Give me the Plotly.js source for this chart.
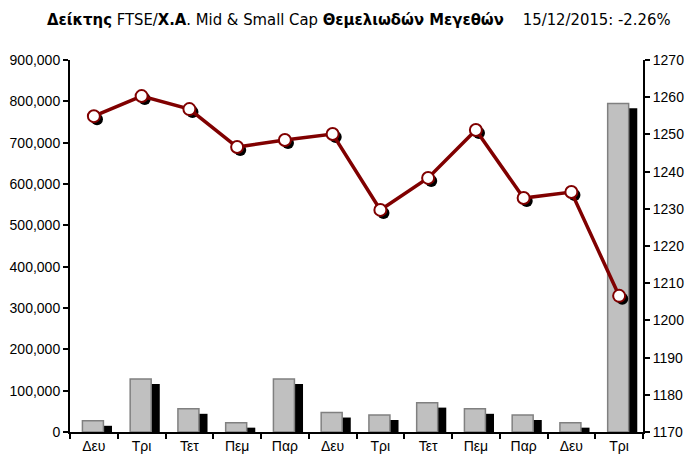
<!DOCTYPE html>
<html>
<head>
<meta charset="utf-8">
<script src="https://cdn.plot.ly/plotly-3.0.1.min.js"></script>
<style>html,body{margin:0;padding:0;background:#fff;}#chart{width:690px;height:465px;}</style>
</head>
<body>
<div id="chart"></div>
<script>
// Data
const days = ["Δευ","Τρι","Τετ","Πεμ","Παρ","Δευ","Τρι","Τετ","Πεμ","Παρ","Δευ","Τρι"];
const volume = [27000,128000,56000,22500,128000,47000,41000,71000,56000,41000,22500,795000];
const indexValues = [1254.9,1260.3,1256.8,1246.6,1248.5,1250.1,1229.7,1238.3,1251.2,1232.9,1234.5,1206.6];

const idx = days.map((d,i)=>i);
const barShadowDrop = 12000;   // shadow shift (left-axis units)
const dotShadowDx = 0.065, dotShadowDy = 0.8;

const traces = [
  { type:'bar', x: idx, y: volume.map(v=>Math.max(v-barShadowDrop,0)), width:0.44, offset:-0.06,
    marker:{color:'#000000', line:{width:0}}, hoverinfo:'skip', yaxis:'y' },
  { type:'bar', x: idx, y: volume, width:0.44, offset:-0.24,
    marker:{color:'#C0C0C0', line:{color:'#808080', width:1.5}}, yaxis:'y' },
  { type:'scatter', mode:'markers', x: idx.map(i=>i+dotShadowDx), y: indexValues.map(v=>v-dotShadowDy),
    marker:{size:12, color:'#000000'}, yaxis:'y2', hoverinfo:'skip' },
  { type:'scatter', mode:'lines+markers', x: idx, y: indexValues,
    line:{color:'#800000', width:3.5},
    marker:{size:12, color:'#FFFFFF', line:{color:'#800000', width:2}}, yaxis:'y2' }
];

const layout = {
  width:690, height:465,
  margin:{l:70, r:47, t:60, b:33},
  paper_bgcolor:'#fff', plot_bgcolor:'#fff',
  showlegend:false,
  barmode:'overlay',
  font:{family:'"Liberation Sans", Arial, sans-serif', size:14, color:'#000'},
  xaxis:{
    range:[-0.5,11.5], tickmode:'array', tickvals: idx, ticktext: days,
    ticks:'', showgrid:false, zeroline:false,
    showline:true, linecolor:'#000', linewidth:2,
    minor:{tick0:-0.5, dtick:1, ticks:'outside', ticklen:5, tickwidth:2, tickcolor:'#000', showgrid:false},
    tickfont:{size:14}
  },
  yaxis:{
    range:[0,900000], dtick:100000, tickformat:',d',
    ticks:'outside', ticklen:5, tickwidth:2, tickcolor:'#000',
    showline:true, linecolor:'#000', linewidth:2,
    showgrid:false, zeroline:false, tickfont:{size:14}
  },
  yaxis2:{
    range:[1170,1270], dtick:10, overlaying:'y', side:'right',
    ticks:'outside', ticklen:5, tickwidth:2, tickcolor:'#000',
    showline:true, linecolor:'#000', linewidth:2,
    showgrid:false, zeroline:false, tickfont:{size:14}
  },
  annotations:[{
    xref:'paper', yref:'paper', x:-0.044, y:1.0, yshift:41, xanchor:'left', yanchor:'middle',
    showarrow:false, align:'left',
    text:'<b>Δείκτης</b> FTSE/<b>Χ.Α</b>. Mid &amp; Small Cap <b>Θεμελιωδών Μεγεθών</b>&nbsp;&nbsp;&nbsp;&nbsp;15/12/2015: -2.26%',
    font:{family:'"Liberation Sans Narrow", "Arial Narrow", "DejaVu Sans Condensed", sans-serif', size:16.5, color:'#000'}
  }]
};

Plotly.newPlot('chart', traces, layout, {displayModeBar:false, staticPlot:true});
</script>
</body>
</html>
